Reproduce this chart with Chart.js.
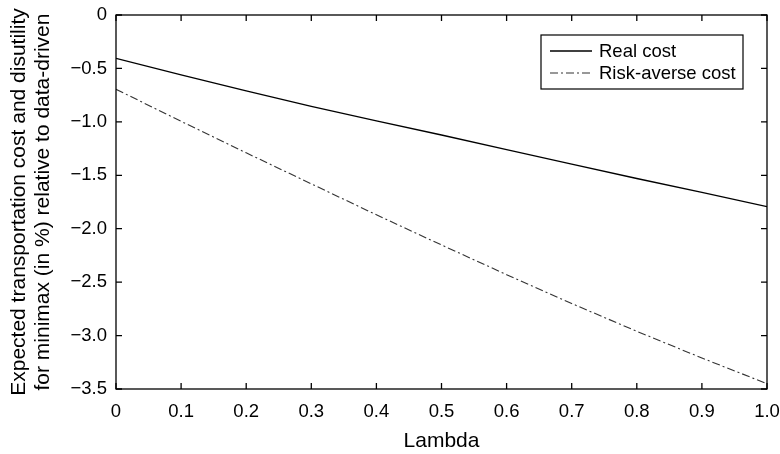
<!DOCTYPE html>
<html>
<head>
<meta charset="utf-8">
<script src="https://cdn.jsdelivr.net/npm/chart.js@4.4.1/dist/chart.umd.min.js"></script>
<style>
  html, body { margin: 0; padding: 0; background: #fff; }
  #wrap { width: 780px; height: 454px; }
</style>
</head>
<body>
<div id="wrap"><canvas id="c" width="780" height="454"></canvas></div>
<script>
// Lambda values on the horizontal axis
const lambda = [0, 0.1, 0.2, 0.3, 0.4, 0.5, 0.6, 0.7, 0.8, 0.9, 1.0];
// Relative change (%) of minimax vs data-driven
const realCost = [-0.405, -0.56, -0.71, -0.855, -0.99, -1.123, -1.26, -1.395, -1.53, -1.66, -1.794];
const riskAverseCost = [-0.695, -0.995, -1.29, -1.58, -1.87, -2.152, -2.43, -2.70, -2.96, -3.21, -3.45];
// Tick labels (bottom to top for y)
const xTickLabels = ['0', '0.1', '0.2', '0.3', '0.4', '0.5', '0.6', '0.7', '0.8', '0.9', '1.0'];
const yTickLabels = ['\u22123.5', '\u22123.0', '\u22122.5', '\u22122.0', '\u22121.5', '\u22121.0', '\u22120.5', '0'];
const seriesNames = ['Real cost', 'Risk-averse cost'];

const FONT = "'Liberation Sans', Arial, Helvetica, sans-serif";
const TICK_SIZE = 18.5;
const TITLE_SIZE = 21;

const toPoints = ys => lambda.map((x, i) => ({ x: x, y: ys[i] }));

// Frame around the plot area plus inward tick marks on all four sides
const framePlugin = {
  id: 'frame',
  afterDraw(chart) {
    const { ctx, chartArea: a, scales } = chart;
    const len = 6;
    ctx.save();
    ctx.strokeStyle = '#000';
    ctx.lineWidth = 1.3;
    ctx.strokeRect(a.left, a.top, a.right - a.left, a.bottom - a.top);
    ctx.beginPath();
    scales.x.ticks.forEach(t => {
      const px = scales.x.getPixelForValue(t.value);
      ctx.moveTo(px, a.bottom); ctx.lineTo(px, a.bottom - len);
      ctx.moveTo(px, a.top); ctx.lineTo(px, a.top + len);
    });
    scales.y.ticks.forEach(t => {
      const py = scales.y.getPixelForValue(t.value);
      ctx.moveTo(a.left, py); ctx.lineTo(a.left + len, py);
      ctx.moveTo(a.right, py); ctx.lineTo(a.right - len, py);
    });
    ctx.stroke();
    ctx.restore();
  }
};

// Boxed legend in the upper right of the plot area
const boxLegendPlugin = {
  id: 'boxLegend',
  afterDraw(chart) {
    const { ctx, chartArea: a } = chart;
    const w = 202, h = 54;
    const x0 = a.right - 24 - w, y0 = a.top + 20;
    ctx.save();
    ctx.fillStyle = '#fff';
    ctx.fillRect(x0, y0, w, h);
    ctx.strokeStyle = '#000';
    ctx.lineWidth = 1.2;
    ctx.strokeRect(x0, y0, w, h);
    ctx.font = TICK_SIZE + 'px ' + FONT;
    ctx.textBaseline = 'middle';
    ctx.textAlign = 'left';
    chart.data.datasets.forEach((ds, i) => {
      const cy = y0 + 16 + i * 22;
      ctx.beginPath();
      ctx.strokeStyle = ds.borderColor;
      ctx.lineWidth = ds.borderWidth;
      ctx.setLineDash(ds.borderDash || []);
      ctx.moveTo(x0 + 9, cy);
      ctx.lineTo(x0 + 51, cy);
      ctx.stroke();
      ctx.setLineDash([]);
      ctx.fillStyle = '#000';
      ctx.fillText(ds.label, x0 + 58, cy + 1);
    });
    ctx.restore();
  }
};

new Chart(document.getElementById('c'), {
  type: 'line',
  data: {
    datasets: [
      {
        label: seriesNames[0],
        data: toPoints(realCost),
        borderColor: '#000',
        borderWidth: 1.3,
        pointRadius: 0,
        tension: 0,
        fill: false
      },
      {
        label: seriesNames[1],
        data: toPoints(riskAverseCost),
        borderColor: '#333',
        borderWidth: 1.1,
        borderDash: [8, 3, 2, 3],
        pointRadius: 0,
        tension: 0,
        fill: false
      }
    ]
  },
  options: {
    responsive: false,
    animation: false,
    layout: { padding: { left: 0, right: 13, top: 15, bottom: 0 } },
    plugins: {
      legend: { display: false },
      tooltip: { enabled: false }
    },
    scales: {
      x: {
        type: 'linear',
        min: 0, max: 1,
        grid: { display: false, drawTicks: false },
        border: { display: false },
        ticks: {
          stepSize: 0.1,
          padding: 12,
          color: '#000',
          maxRotation: 0,
          autoSkip: false,
          font: { family: FONT, size: TICK_SIZE },
          callback: (v, i) => xTickLabels[i]
        },
        title: {
          display: true,
          text: 'Lambda',
          color: '#000',
          font: { family: FONT, size: TITLE_SIZE },
          padding: { top: 0, bottom: 0 }
        },
        afterFit(scale) { scale.height = 65; scale.paddingLeft = 0; scale.paddingRight = 0; }
      },
      y: {
        min: -3.5, max: 0,
        grid: { display: false, drawTicks: false },
        border: { display: false },
        ticks: {
          stepSize: 0.5,
          padding: 9,
          color: '#000',
          autoSkip: false,
          font: { family: FONT, size: TICK_SIZE },
          callback: (v, i) => yTickLabels[i]
        },
        title: {
          display: true,
          text: ['Expected transportation cost and disutility', 'for minimax (in %) relative to data-driven'],
          color: '#000',
          font: { family: FONT, size: TITLE_SIZE, lineHeight: 24 / 21 },
          padding: { top: 7, bottom: 0 }
        },
        afterFit(scale) { scale.width = 116; scale.paddingTop = 0; scale.paddingBottom = 0; }
      }
    }
  },
  plugins: [framePlugin, boxLegendPlugin]
});
</script>
</body>
</html>
